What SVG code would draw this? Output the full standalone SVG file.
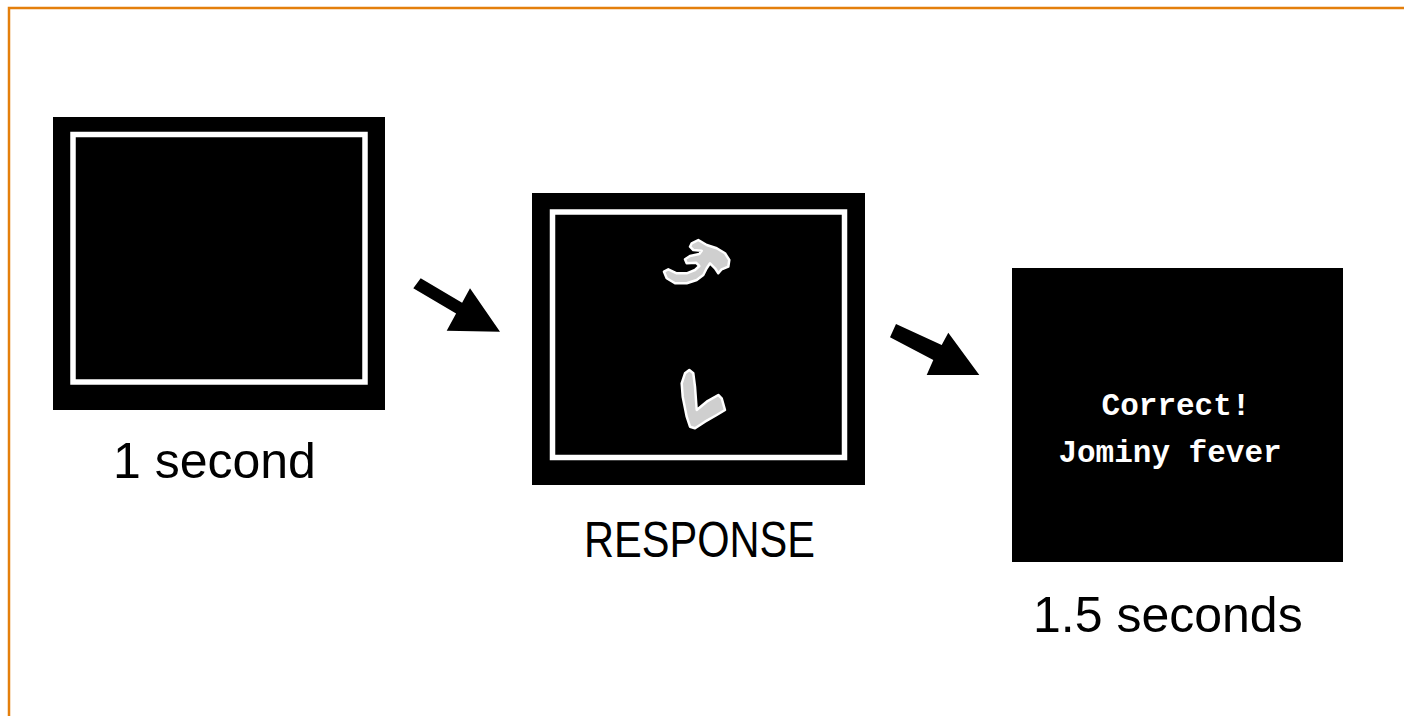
<svg xmlns="http://www.w3.org/2000/svg" width="1404" height="716" viewBox="0 0 1404 716">
<style>
.lbl{font-family:"Liberation Sans",Arial,sans-serif;font-size:50px;fill:#000;}
.mono{font-family:"Liberation Mono","Courier New",monospace;font-size:31px;font-weight:bold;fill:#fff;text-anchor:middle;}
.frame{fill:#000;}
.inner{fill:none;stroke:#fff;stroke-width:5.5;}
.arrow{fill:#000;}
.glyph{fill:#cfcfcf;stroke:#fff;stroke-width:2.5;stroke-linejoin:round;}
</style>
<rect width="1404" height="716" fill="#fff"/>
<path d="M9,716 V8 H1404" fill="none" stroke="#E47F0C" stroke-width="2.5"/>
<g id="node-fixation">
<rect class="frame" x="53" y="117" width="332" height="293"/>
<rect class="inner" x="73" y="134.5" width="292" height="247.5"/>
<text class="lbl" x="113" y="478">1 second</text>
</g>
<g id="node-response">
<rect class="frame" x="532" y="193" width="333" height="292"/>
<rect class="inner" x="552.5" y="212" width="292" height="245.5"/>
<polygon class="glyph" points="691.7,243.3 698.3,240 706.7,245 716.7,248.3 725,253.3 729.3,260 728.3,266.7 721.7,269.3 718.3,273.3 715,268.3 710,263.3 706.7,268.3 703.3,275 696.7,280 686.7,283.3 675,283.3 666.7,278.3 664,271.7 668.3,269.3 676.7,273.3 686.7,273.3 695,270 699.3,266 696,262.7 686.7,263.3 685,259.3 690,256 699.3,254 701.7,250.7 693.3,250 690,246.7"/>
<polygon class="glyph" points="689.3,370 693.3,373.3 695,386.7 696.7,410 706.7,401.7 718.3,395 721.7,398.3 725,410 716.7,415 705,421.7 695,428.3 690,426.7 686.7,416.7 682.7,396.7 681.7,383.3 685,373.3"/>
<text class="lbl" x="584" y="557" textLength="231" lengthAdjust="spacingAndGlyphs">RESPONSE</text>
</g>
<g id="node-feedback">
<rect class="frame" x="1012" y="268" width="331" height="294"/>
<text class="mono" x="1176" y="415">Correct!</text>
<text class="mono" x="1170" y="462">Jominy fever</text>
<text class="lbl" x="1033" y="632">1.5 seconds</text>
</g>
<g id="connectors">
<polygon class="arrow" points="413.3,288.3 420.7,278.3 462.1,302.7 470,288.3 500,331.7 446.7,330.7 456.1,313.6"/>
<polygon class="arrow" points="890,337.3 896,324 941.7,345 948.3,332.7 979.3,375 926.7,375 933.3,360"/>
</g>
</svg>
